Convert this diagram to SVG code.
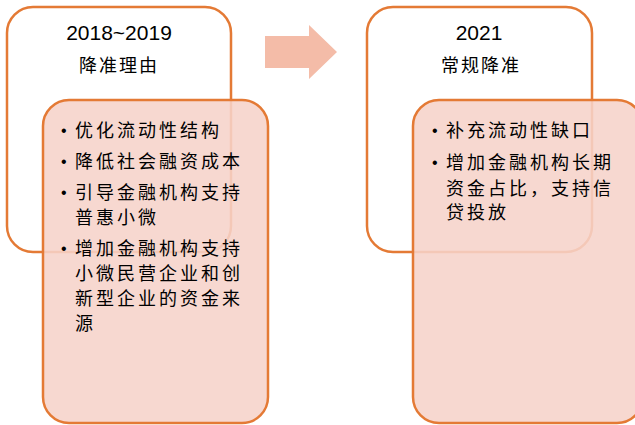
<svg xmlns="http://www.w3.org/2000/svg" width="635" height="425" viewBox="0 0 635 425">
<style>
.outer{fill:#fff;stroke:#E47A35;stroke-width:2.5}
.inner{fill:#F6D3CA;fill-opacity:0.88;stroke:#E47A35;stroke-width:2.5}
.yr{font-family:"Liberation Sans",Arial,sans-serif;font-size:21px;fill:#000;text-anchor:middle}
.ttl{font-family:"Noto Sans CJK SC",sans-serif;font-size:18px;fill:#000;text-anchor:middle;letter-spacing:2px}
.b{font-family:"Noto Sans CJK SC",sans-serif;font-size:18px;fill:#000;letter-spacing:3px}
.dot{font-family:"Liberation Sans",Arial,sans-serif;font-size:16px;fill:#000}
</style>
<g id="connectors">
<polygon points="265,36 309,36 309,25 337,52 309,79 309,68 265,68" fill="#F4BCA8"/>
</g>
<g id="node-left">
<rect class="outer" x="7" y="7" width="224" height="245" rx="26"/>
<text class="yr" x="119" y="40">2018~2019</text>
<text class="ttl" x="119" y="72">降准理由</text>
</g>
<g id="node-left-detail">
<rect class="inner" x="43" y="100" width="225" height="323" rx="26"/>
<text class="dot" x="61" y="136">•</text>
<text class="b" x="75" y="137">优化流动性结构</text>
<text class="dot" x="61" y="167">•</text>
<text class="b" x="75" y="168">降低社会融资成本</text>
<text class="dot" x="61" y="198">•</text>
<text class="b" x="75" y="199">引导金融机构支持</text>
<text class="b" x="75" y="224">普惠小微</text>
<text class="dot" x="61" y="254">•</text>
<text class="b" x="75" y="255">增加金融机构支持</text>
<text class="b" x="75" y="280">小微民营企业和创</text>
<text class="b" x="75" y="305">新型企业的资金来</text>
<text class="b" x="75" y="330">源</text>
</g>
<g id="node-right">
<rect class="outer" x="367" y="7" width="225" height="245" rx="26"/>
<text class="yr" x="479" y="40">2021</text>
<text class="ttl" x="481" y="72">常规降准</text>
</g>
<g id="node-right-detail">
<rect class="inner" x="413" y="100" width="230" height="323" rx="26"/>
<text class="dot" x="432" y="136">•</text>
<text class="b" x="446" y="137">补充流动性缺口</text>
<text class="dot" x="432" y="168">•</text>
<text class="b" x="446" y="169">增加金融机构长期</text>
<text class="b" x="446" y="195">资金占比，支持信</text>
<text class="b" x="446" y="219">贷投放</text>
</g>
</svg>
